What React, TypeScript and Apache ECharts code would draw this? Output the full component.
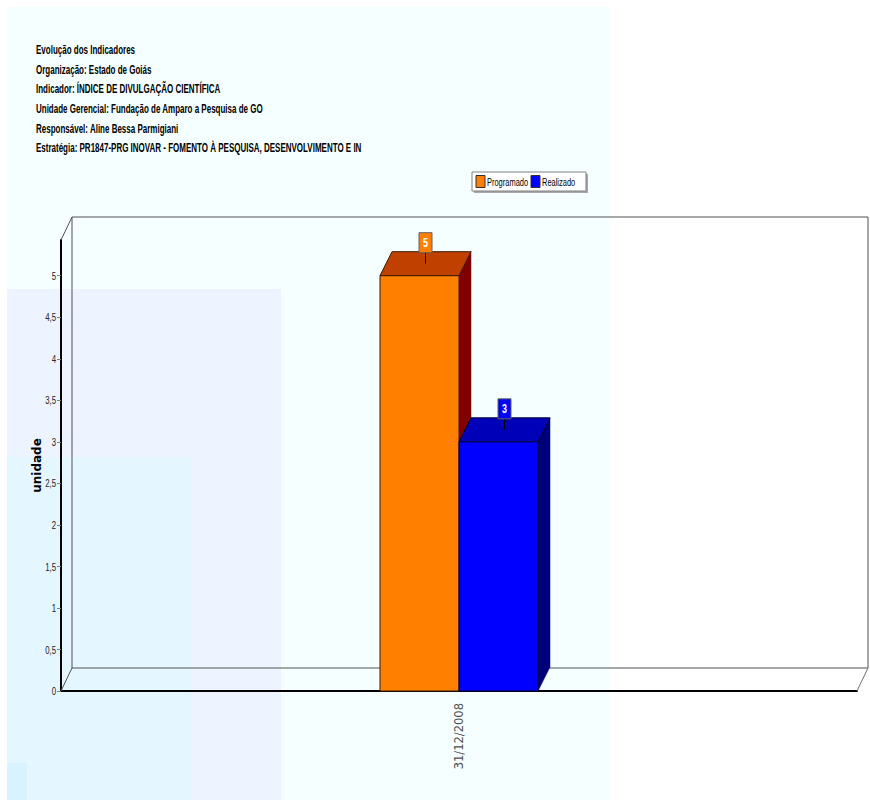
import React, { useEffect, useRef } from "react";
import * as echarts from "echarts";

const titleLines = [
  "Evolução dos Indicadores",
  "Organização: Estado de Goiás",
  "Indicador: ÍNDICE DE DIVULGAÇÃO CIENTÍFICA",
  "Unidade Gerencial: Fundação de Amparo a Pesquisa de GO",
  "Responsável: Aline Bessa Parmigiani",
  "Estratégia: PR1847-PRG INOVAR - FOMENTO À PESQUISA, DESENVOLVIMENTO E IN",
];
const categories = ["31/12/2008"];
const seriesNames = ["Programado", "Realizado"];
const programado = [5];
const realizado = [3];
const yTicks = [0, 0.5, 1, 1.5, 2, 2.5, 3, 3.5, 4, 4.5, 5];
const yMax = 5.43;
const yName = "unidade";

const SANS = "'Liberation Sans', Arial, sans-serif";
const DX = 12;
const DY = -24;
const BAR_W = 79;

const palettes = [
  { front: "#ff8000", top: "#c04000", side: "#800000", stroke: "#3a1800" },
  { front: "#0000ff", top: "#0000b8", side: "#000078", stroke: "#000030" },
];

function barRenderer(idx: number) {
  const pal = palettes[idx];
  return (params: any, api: any) => {
    const cat = api.value(0);
    const val = api.value(1);
    const top = api.coord([cat, val]);
    const base = api.coord([cat, 0]);
    const x = idx === 0 ? top[0] - BAR_W : top[0];
    const yT = top[1];
    const yB = base[1];
    const cx = x + BAR_W / 2 + DX / 2;
    const cy = yT + DY / 2;
    return {
      type: "group",
      children: [
        {
          type: "polygon",
          shape: { points: [[x + BAR_W, yT], [x + BAR_W + DX, yT + DY], [x + BAR_W + DX, yB + DY], [x + BAR_W, yB]] },
          style: { fill: pal.side, stroke: pal.side, lineWidth: 0.5 },
        },
        {
          type: "polygon",
          shape: { points: [[x, yT], [x + DX, yT + DY], [x + BAR_W + DX, yT + DY], [x + BAR_W, yT]] },
          style: { fill: pal.top, stroke: pal.stroke, lineWidth: 1 },
        },
        {
          type: "rect",
          shape: { x, y: yT, width: BAR_W, height: yB - yT },
          style: { fill: pal.front, stroke: pal.stroke, lineWidth: 1 },
        },
        {
          type: "line",
          shape: { x1: cx, y1: cy, x2: cx, y2: cy - 11 },
          style: { stroke: "#000", lineWidth: 1 },
        },
        {
          type: "rect",
          shape: { x: cx - 6.5, y: cy - 31, width: 13, height: 20 },
          style: { fill: pal.front, stroke: "#606060", lineWidth: 1 },
        },
        {
          type: "text",
          x: cx,
          y: cy - 21,
          scaleX: 0.75,
          style: {
            x: 0,
            y: 0,
            text: String(val),
            fill: "#ffffff",
            fontSize: 12,
            fontWeight: "bold",
            fontFamily: SANS,
            align: "center",
            verticalAlign: "middle",
          },
        },
      ],
    };
  };
}

function yLabelRenderer(params: any, api: any) {
  const v = api.value(1);
  const p = api.coord([0, v]);
  return {
    type: "text",
    x: params.coordSys.x - 5,
    y: p[1],
    scaleX: 0.68,
    style: {
      x: 0,
      y: 0,
      text: String(v).replace(".", ","),
      fill: "#222",
      fontSize: 11.5,
      fontFamily: SANS,
      align: "right",
      verticalAlign: "middle",
    },
  };
}

function frameRenderer(params: any, api: any) {
  const cs = params.coordSys;
  const x0 = cs.x;
  const y0 = cs.y;
  const w = cs.width;
  const h = cs.height;
  const dx = 11;
  const dy = -23;
  return {
    type: "group",
    children: [
      {
        type: "rect",
        shape: { x: x0 + dx, y: y0 + dy, width: w, height: h },
        style: { fill: "none", stroke: "#505050", lineWidth: 1 },
      },
      {
        type: "line",
        shape: { x1: x0, y1: y0, x2: x0 + dx, y2: y0 + dy },
        style: { stroke: "#505050", lineWidth: 1 },
      },
      {
        type: "line",
        shape: { x1: x0, y1: y0 + h, x2: x0 + dx, y2: y0 + h + dy },
        style: { stroke: "#505050", lineWidth: 1 },
      },
      {
        type: "line",
        shape: { x1: x0 + w, y1: y0 + h, x2: x0 + w + dx, y2: y0 + h + dy },
        style: { stroke: "#707070", lineWidth: 1 },
      },
    ],
  };
}

export default function App() {
  const ref = useRef<HTMLDivElement>(null);
  useEffect(() => {
    if (!ref.current) return;
    const chart = echarts.init(ref.current, null, { renderer: "svg" });
    const titleEls = titleLines.map((t, i) => ({
      type: "text",
      z: 5,
      x: 36,
      y: 50 + i * 19.6,
      scaleX: 0.64,
      style: {
        x: 0,
        y: 0,
        text: t,
        fill: "#000",
        fontSize: 12.5,
        fontWeight: "bold",
        fontFamily: SANS,
        verticalAlign: "middle",
      },
    }));
    const legendEls: any[] = [
      { type: "rect", z: 3, shape: { x: 474, y: 174, width: 114, height: 19 }, style: { fill: "#a8a8a8" } },
      { type: "rect", z: 4, shape: { x: 472, y: 172, width: 114, height: 19 }, style: { fill: "#ffffff", stroke: "#808080", lineWidth: 1 } },
      { type: "rect", z: 5, shape: { x: 476, y: 175.5, width: 9, height: 12 }, style: { fill: palettes[0].front, stroke: "#303030", lineWidth: 1 } },
      {
        type: "text", z: 5, x: 487, y: 182, scaleX: 0.68,
        style: { x: 0, y: 0, text: seriesNames[0], fill: "#000", fontSize: 11, fontFamily: SANS, verticalAlign: "middle" },
      },
      { type: "rect", z: 5, shape: { x: 531, y: 175.5, width: 9, height: 12 }, style: { fill: palettes[1].front, stroke: "#303030", lineWidth: 1 } },
      {
        type: "text", z: 5, x: 542, y: 182, scaleX: 0.68,
        style: { x: 0, y: 0, text: seriesNames[1], fill: "#000", fontSize: 11, fontFamily: SANS, verticalAlign: "middle" },
      },
    ];
    const option: any = {
      animation: false,
      backgroundColor: "#ffffff",
      graphic: [
        { type: "rect", z: -10, shape: { x: 7, y: 7, width: 602, height: 793 }, style: { fill: "#f5ffff" } },
        { type: "rect", z: -9, shape: { x: 7, y: 289, width: 274, height: 511 }, style: { fill: "#eef4ff" } },
        { type: "rect", z: -8, shape: { x: 7, y: 457, width: 185, height: 343 }, style: { fill: "#e4f6ff" } },
        { type: "rect", z: -7, shape: { x: 7, y: 763, width: 20, height: 37 }, style: { fill: "#d8f2ff" } },
        ...titleEls,
        ...legendEls,
      ],
      grid: { left: 61, top: 240, width: 796, height: 451 },
      xAxis: {
        type: "category",
        data: categories,
        axisLine: { lineStyle: { color: "#000", width: 2 } },
        axisTick: { alignWithLabel: true, length: 6, lineStyle: { color: "#909090" } },
        axisLabel: {
          rotate: 90,
          margin: 12,
          fontSize: 11.5,
          color: "#505050",
          fontFamily: "'DejaVu Sans', sans-serif",
        },
        splitLine: { show: false },
      },
      yAxis: {
        type: "value",
        min: 0,
        max: yMax,
        name: yName,
        nameLocation: "middle",
        nameGap: 18,
        nameMoveOverlap: false,
        nameTextStyle: { fontSize: 12, fontWeight: "bold", color: "#000", fontFamily: "'DejaVu Sans', sans-serif" },
        axisLine: { show: true, lineStyle: { color: "#000", width: 2 } },
        axisTick: { show: true, length: 4, customValues: yTicks, lineStyle: { color: "#808080" } },
        axisLabel: { show: false },
        splitLine: { show: false },
      },
      series: [
        {
          type: "custom",
          name: "frame",
          z: 1,
          silent: true,
          renderItem: frameRenderer,
          data: [[0, 0]],
        },
        {
          type: "custom",
          name: "yLabels",
          z: 1,
          silent: true,
          clip: false,
          renderItem: yLabelRenderer,
          encode: { x: 0, y: 1 },
          data: yTicks.map((v) => [0, v]),
        },
        {
          type: "custom",
          name: seriesNames[0],
          z: 2,
          itemStyle: { color: palettes[0].front },
          renderItem: barRenderer(0),
          encode: { x: 0, y: 1 },
          data: programado.map((v, i) => [i, v]),
        },
        {
          type: "custom",
          name: seriesNames[1],
          z: 3,
          itemStyle: { color: palettes[1].front },
          renderItem: barRenderer(1),
          encode: { x: 0, y: 1 },
          data: realizado.map((v, i) => [i, v]),
        },
      ],
    };
    chart.setOption(option);
    return () => chart.dispose();
  }, []);
  return (
    <div
      ref={ref}
      style={{ position: "fixed", left: 0, top: 0, width: 870, height: 800 }}
    />
  );
}
